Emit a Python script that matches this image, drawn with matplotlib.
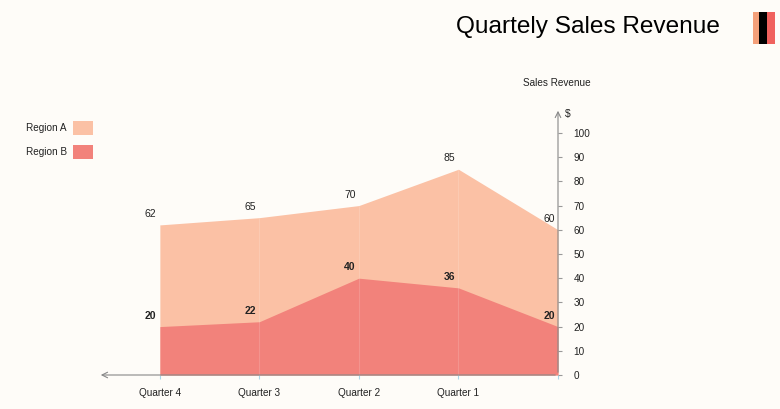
import matplotlib.pyplot as plt
from matplotlib.patches import Rectangle

plt.rcParams['font.family'] = ['Liberation Sans', 'DejaVu Sans']

# data (chart is drawn mirrored: first point sits on the value axis at the right)
quarters = ['', 'Quarter 1', 'Quarter 2', 'Quarter 3', 'Quarter 4']
region_a = [60, 85, 70, 65, 62]
region_b = [20, 36, 40, 22, 20]
y_ticks = list(range(0, 101, 10))
series_names = ['Region A', 'Region B']

bg = '#FEFCF8'
col_a = '#FBC1A5'
col_b = '#F2827B'
txt = '#222222'
W, H = 780, 409

fig = plt.figure(figsize=(W / 100, H / 100), dpi=100, facecolor=bg)
ax = fig.add_axes([100 / W, 34 / H, 458 / W, 267 / H])
ax.set_facecolor(bg)

x = list(range(len(quarters)))
ax.fill_between(x, region_a, color=col_a, lw=0)
ax.fill_between(x, region_b, color=col_b, lw=0)
ax.vlines(x[1:], 0, region_a[1:], color='white', alpha=0.15, lw=0.8)

ax.set_xlim(4.6, 0)
ax.set_ylim(0, 110.3)

for s in ax.spines.values():
    s.set_visible(False)

# axis lines with arrows
ax.annotate('', xy=(4.62, 0), xytext=(0, 0), xycoords='data',
            arrowprops=dict(arrowstyle='->', color='#888888', lw=0.8), annotation_clip=False)
ax.annotate('', xy=(0, 110.3), xytext=(0, 0), xycoords='data',
            arrowprops=dict(arrowstyle='->', color='#888888', lw=0.8), annotation_clip=False)

ax.yaxis.tick_right()
ax.set_yticks(y_ticks)
ax.tick_params(axis='y', length=3, color='#999999', labelsize=7.2, labelcolor=txt, pad=8)
ax.set_xticks(x)
ax.set_xticklabels(quarters)
ax.tick_params(axis='x', length=3, color='#A8D8EA', labelsize=7.2, labelcolor=txt, pad=6)

for i in x:
    ax.annotate(str(region_a[i]), (i, region_a[i]), xytext=(-9, 11), textcoords='offset pixels',
                ha='center', va='center', fontsize=7.5, color=txt)
    ax.annotate(str(region_b[i]), (i, region_b[i]), xytext=(-9, 11), textcoords='offset pixels',
                ha='center', va='center', fontsize=7.5, color=txt, fontweight='bold')

# axis names
fig.text(568 / W, 1 - 114 / H, '$', ha='center', va='center', fontsize=7.5, color=txt)
fig.text(557 / W, 1 - 83 / H, 'Sales Revenue', ha='center', va='center', fontsize=7.2, color=txt)

# title + icon
fig.text(720 / W, 1 - 27 / H, 'Quartely Sales Revenue', ha='right', va='center',
         fontsize=17.6, color='black')
for x0, x1, c in [(753, 759, '#F4A07A'), (759, 767, 'black'), (767, 775, '#F0625E')]:
    fig.patches.append(Rectangle((x0 / W, 1 - 44 / H), (x1 - x0) / W, 32 / H,
                                 transform=fig.transFigure, color=c, lw=0))

# legend
for name, c, yc in [(series_names[0], col_a, 128), (series_names[1], col_b, 152)]:
    fig.patches.append(Rectangle((73 / W, 1 - (yc + 7) / H), 20 / W, 14 / H,
                                 transform=fig.transFigure, color=c, lw=0))
    fig.text(67 / W, 1 - yc / H, name, ha='right', va='center', fontsize=7.2, color=txt)

fig.savefig('out.png', dpi=100, facecolor=bg)
